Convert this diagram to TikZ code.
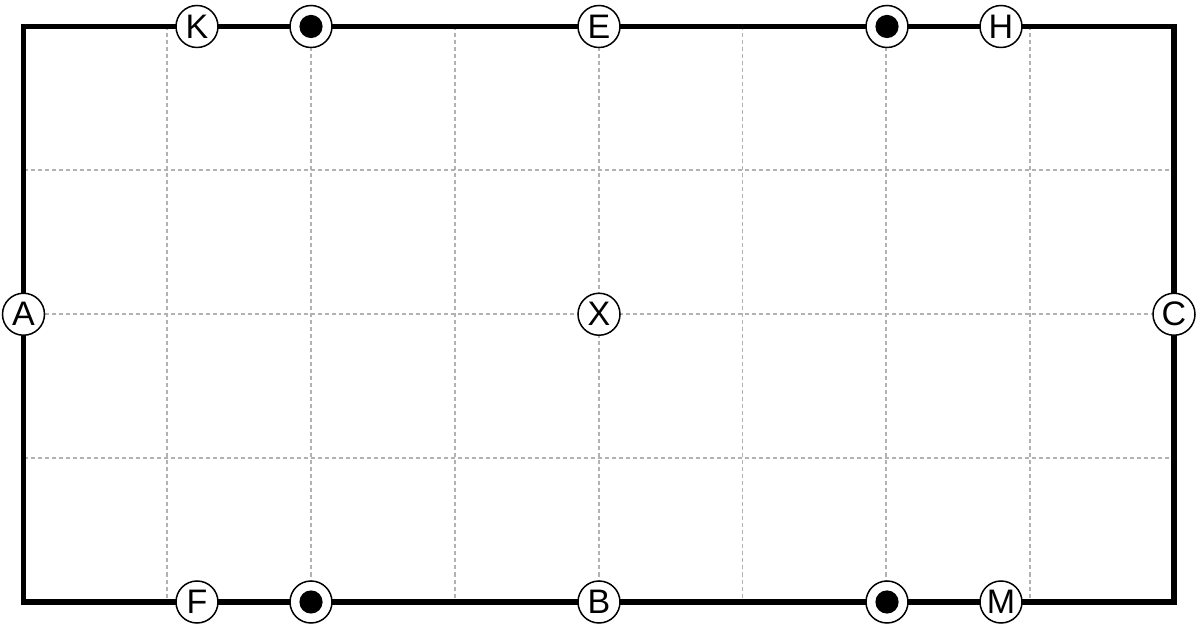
\documentclass[tikz,border=0pt]{standalone}
\usepackage{fontspec}
\setmainfont{Liberation Sans}
\tikzstyle{field}   =[line width=2.6pt,black,line join=miter]
\tikzstyle{gridln}  =[line width=0.9pt,gray!60,dash pattern=on 2pt off 1.5pt]
\tikzstyle{spot}    =[circle,draw,line width=0.75pt,fill=white,minimum size=21pt,
                      inner sep=0pt,font=\fontsize{17}{18}\selectfont]
\tikzstyle{dotspot} =[spot,path picture={\fill[black]
                      (path picture bounding box.center) circle (5.8pt);}]
\begin{document}
\begin{tikzpicture}[x=0.5pt,y=-0.5pt]
  \useasboundingbox (0,0) rectangle (1200,630);
  % Corners of the field
  \coordinate (NW) at (23.5,26.5);
  \coordinate (SE) at (1174,602);

  % Dashed grid, 8 x 4 cells
  \foreach \i in {1,...,7}
    \draw[gridln] (23.5+\i*143.81,26.5) -- (23.5+\i*143.81,602);
  \foreach \j in {1,2,3}
    \draw[gridln] (23.5,26.5+\j*143.875) -- (1174,26.5+\j*143.875);

  % Outline
  \draw[field] (NW) rectangle (SE);

  % Top side
  \node[spot]    (K)  at (197,26.5) {K};
  \node[dotspot] (T1) at (311,26.5) {};
  \node[spot]    (E)  at (599,26.5) {E};
  \node[dotspot] (T2) at (887,26.5) {};
  \node[spot]    (H)  at (1001,26.5) {H};

  % Middle line
  \node[spot] (A) at (23.5,314.25) {A};
  \node[spot] (X) at (599,314.25) {X};
  \node[spot] (C) at (1174,314.25) {C};

  % Bottom side
  \node[spot]    (F)  at (197,602) {F};
  \node[dotspot] (B1) at (311,602) {};
  \node[spot]    (B)  at (599,602) {B};
  \node[dotspot] (B2) at (887,602) {};
  \node[spot]    (M)  at (1001,602) {M};
\end{tikzpicture}
\end{document}
